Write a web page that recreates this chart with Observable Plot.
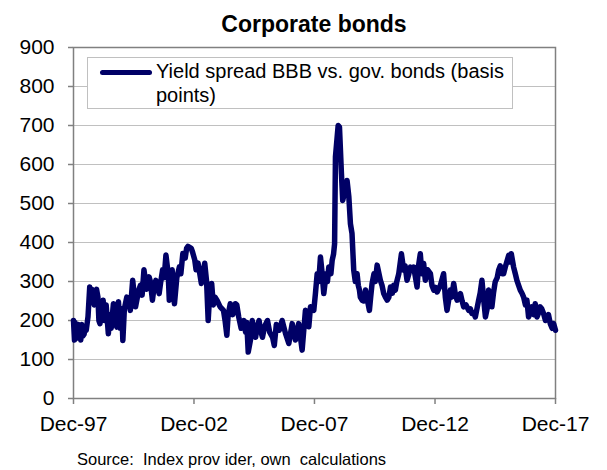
<!DOCTYPE html>
<html><head><meta charset="utf-8">
<script src="https://cdn.jsdelivr.net/npm/d3@7"></script>
<script src="https://cdn.jsdelivr.net/npm/@observablehq/plot@0.6"></script>
<style>
body{margin:0;background:#fff;font-family:"Liberation Sans",Arial,sans-serif;}
#wrap{position:relative;width:607px;height:470px;overflow:hidden;}
#title{position:absolute;left:0;top:13px;width:628px;text-align:center;font-weight:bold;font-size:23px;line-height:23px;color:#000;}
#chart{position:absolute;left:0;top:0;}
#legend{position:absolute;left:87px;top:57px;width:424px;height:50px;border:1px solid #c0c0c0;background:#fff;}
#legline{position:absolute;left:12px;top:12px;width:52px;height:5px;border-radius:3px;background:#000066;}
#legtext{position:absolute;left:68px;top:1px;font-size:20px;line-height:24px;color:#000;white-space:nowrap;}
#source{position:absolute;left:77px;top:451px;font-size:16.5px;line-height:16px;color:#000;white-space:pre;}
</style></head>
<body>
<div id="wrap">
<div id="chart"></div>
<div id="title">Corporate bonds</div>
<div id="legend"><div id="legline"></div><div id="legtext">Yield spread BBB vs. gov. bonds (basis<br>points)</div></div>
<div id="source">Source:  Index prov ider, own  calculations</div>
</div>
<script>
// main readings
const dates = [
"1997-12-31","1998-02-10","1998-04-01","1998-05-20","1998-07-12","1998-08-08","1998-09-03","1998-10-25","1998-12-15",
"1999-02-05","1999-03-25","1999-06-12","1999-08-28","1999-10-18","1999-11-12","2000-01-18","2000-03-18","2000-05-10",
"2000-06-15","2000-07-28","2000-09-15","2000-12-03","2001-02-18","2001-04-10","2001-06-01","2001-07-21","2001-09-12",
"2001-11-01","2001-12-22","2002-02-03","2002-03-10","2002-05-25","2002-07-15","2002-10-01","2002-11-20","2003-01-12",
"2003-03-03","2003-04-22","2003-06-12","2003-08-03","2003-09-25","2003-11-15","2004-02-01","2004-03-22","2004-05-12",
"2004-07-03","2004-09-18","2004-11-08","2005-01-25","2005-04-01","2005-06-01","2005-07-22","2005-09-12","2005-11-03",
"2006-01-18","2006-04-05","2006-05-01","2006-07-15","2006-08-28","2006-10-18","2006-12-07","2007-01-27","2007-03-17",
"2007-05-06","2007-06-27","2007-08-16","2007-10-06","2007-11-01","2007-12-21","2008-02-10","2008-03-31","2008-05-20",
"2008-06-25","2008-08-04","2008-09-24","2008-10-31","2008-11-13","2008-12-24","2009-01-13","2009-02-12","2009-03-03",
"2009-04-03","2009-05-08","2009-06-04","2009-06-28","2009-07-22","2009-08-17","2009-10-07","2009-11-12","2009-12-22",
"2010-02-12","2010-04-12","2010-05-22","2010-08-07","2010-09-25","2010-11-15","2011-01-06","2011-02-25","2011-05-10",
"2011-07-01","2011-08-10","2011-09-13","2011-11-03","2011-12-24","2012-02-12","2012-04-03","2012-05-22","2012-07-12",
"2012-08-06","2012-10-22","2012-12-12","2013-02-01","2013-03-22","2013-05-10","2013-07-01","2013-08-20","2013-10-10",
"2013-12-01","2014-01-20","2014-03-10","2014-05-25","2014-07-13","2014-09-03","2014-10-23","2014-12-12","2015-02-03",
"2015-03-23","2015-05-12","2015-07-01","2015-08-22","2015-10-12","2015-12-01","2016-01-22","2016-03-01","2016-04-05",
"2016-05-25","2016-07-15","2016-09-04","2016-10-24","2016-11-18","2017-01-08","2017-02-27","2017-03-25","2017-05-13",
"2017-07-03","2017-08-24","2017-10-13","2017-12-03","2017-12-31"
];
const spread = [
200,165,185,160,175,210,286,260,280,
192,252,166,243,183,248,149,260,226,
303,235,278,330,312,252,303,269,330,
368,252,330,243,338,372,390,385,355,
347,295,347,200,295,260,235,226,162,
243,243,209,200,119,200,157,200,157,
200,157,136,175,200,167,141,192,150,
192,124,226,184,235,226,320,363,269,
320,337,354,397,619,700,696,576,508,
551,559,517,448,423,329,320,278,252,
278,226,295,342,303,269,252,286,278,
320,371,329,303,337,337,286,371,346,
303,320,278,273,290,320,226,278,295,
252,269,235,226,218,209,252,303,209,
278,235,299,329,320,337,367,371,337,
303,278,260,252,209,235,243,209,235,
218,209,192,192,175
];
// extra readings of the short-term swings inside the band
const extraDates = [
"1998-01-15","1998-01-25","1998-03-01","1998-03-15","1998-04-20","1998-05-05","1998-06-10","1998-06-25",
"1998-09-20","1998-10-05","1998-11-10","1998-11-25","1999-01-05","1999-01-20",
"1999-04-15","1999-05-10","1999-07-05","1999-07-25","1999-09-20","1999-12-10","2000-01-01",
"2000-02-10","2000-04-10","2000-08-20","2000-10-10","2000-11-05","2001-01-10","2001-03-10",
"2001-05-01","2001-08-15","2001-10-05","2001-12-05",
"2002-04-15","2002-06-15","2002-08-20","2002-09-10","2002-12-10",
"2003-02-01","2003-05-15","2003-07-10","2003-08-20","2003-10-20",
"2003-12-20","2004-04-15","2004-06-01","2004-08-10","2004-10-10",
"2004-12-15","2005-02-20","2005-03-10","2005-05-05","2005-06-25","2005-08-15","2005-10-05","2005-12-05","2006-02-20","2006-06-01",
"2008-01-15","2008-03-05","2008-04-20","2008-07-15","2008-09-05","2008-10-15",
"2009-03-20","2009-04-20","2009-09-10","2009-10-25","2009-11-25","2010-01-15","2010-03-15","2010-05-01","2010-06-20","2010-07-10",
"2010-10-20","2010-12-10","2011-02-01","2011-03-25","2011-04-15","2011-06-01","2011-10-05","2011-12-01","2012-01-15","2012-03-10","2012-04-25","2012-06-15","2012-09-10","2012-11-15",
"2013-01-05","2013-06-05","2013-09-10","2013-11-01","2014-02-15","2014-04-15","2014-06-20","2014-08-10","2014-11-15","2015-01-10",
"2015-03-01","2015-04-15","2015-06-05","2015-08-01","2015-09-15","2015-11-05","2016-02-10","2016-05-01","2016-06-20","2016-08-10",
"2016-10-01","2016-12-15","2017-02-05","2017-04-20","2017-06-05","2017-08-01","2017-09-15","2017-11-10"
];
const extraSpread = [
150,195,155,190,150,190,165,185,
250,280,240,275,260,200,
200,240,215,180,200,180,230,
230,250,255,290,265,280,300,
280,300,310,320,
310,320,360,385,375,
330,320,300,250,240,
250,200,215,215,240,
180,170,195,150,170,185,175,185,170,190,
270,300,330,300,320,370,
520,530,300,290,260,250,250,260,320,300,
290,260,260,270,290,300,340,320,330,310,340,320,330,290,
285,260,260,270,250,240,230,220,270,250,
230,270,270,310,340,320,350,320,290,270,
240,220,215,220,230,200,215,180
];
const yTicks = [0,100,200,300,400,500,600,700,800,900];
const xTickLabels = ["Dec-97","Dec-02","Dec-07","Dec-12","Dec-17"];
const xTickDates = ["1997-12-31","2002-12-31","2007-12-31","2012-12-31","2017-12-31"];

const xTicks = xTickDates.map(d => new Date(d));
const rows = dates.map((d, i) => ({date: new Date(d), value: spread[i]}))
  .concat(extraDates.map((d, i) => ({date: new Date(d), value: extraSpread[i]})))
  .sort((a, b) => a.date - b.date);

const chart = Plot.plot({
  width: 607,
  height: 448,
  marginTop: 47,
  marginBottom: 50,
  marginLeft: 73,
  marginRight: 52,
  style: {fontFamily: '"Liberation Sans", Arial, sans-serif', fontSize: "21px", color: "#000", background: "#fff"},
  x: {type: "utc", domain: [xTicks[0], xTicks[4]]},
  y: {domain: [0, 900]},
  marks: [
    Plot.gridY(yTicks, {stroke: "#c0c0c0", strokeOpacity: 1, strokeWidth: 1.2}),
    Plot.frame({stroke: "#808080", strokeWidth: 1.5}),
    Plot.axisY({ticks: yTicks, tickSize: 5, tickPadding: 14, stroke: "#808080", strokeWidth: 1.5, fill: "#000", label: null}),
    Plot.axisX({ticks: xTicks, tickFormat: (d, i) => xTickLabels[i], tickSize: 6, tickPadding: 12, stroke: "#808080", strokeWidth: 1.5, fill: "#000", label: null}),
    Plot.line(rows, {x: "date", y: "value", stroke: "#000066", strokeWidth: 5.5, strokeLinejoin: "round", strokeLinecap: "round"})
  ]
});
document.getElementById("chart").appendChild(chart);
</script>
</body></html>
